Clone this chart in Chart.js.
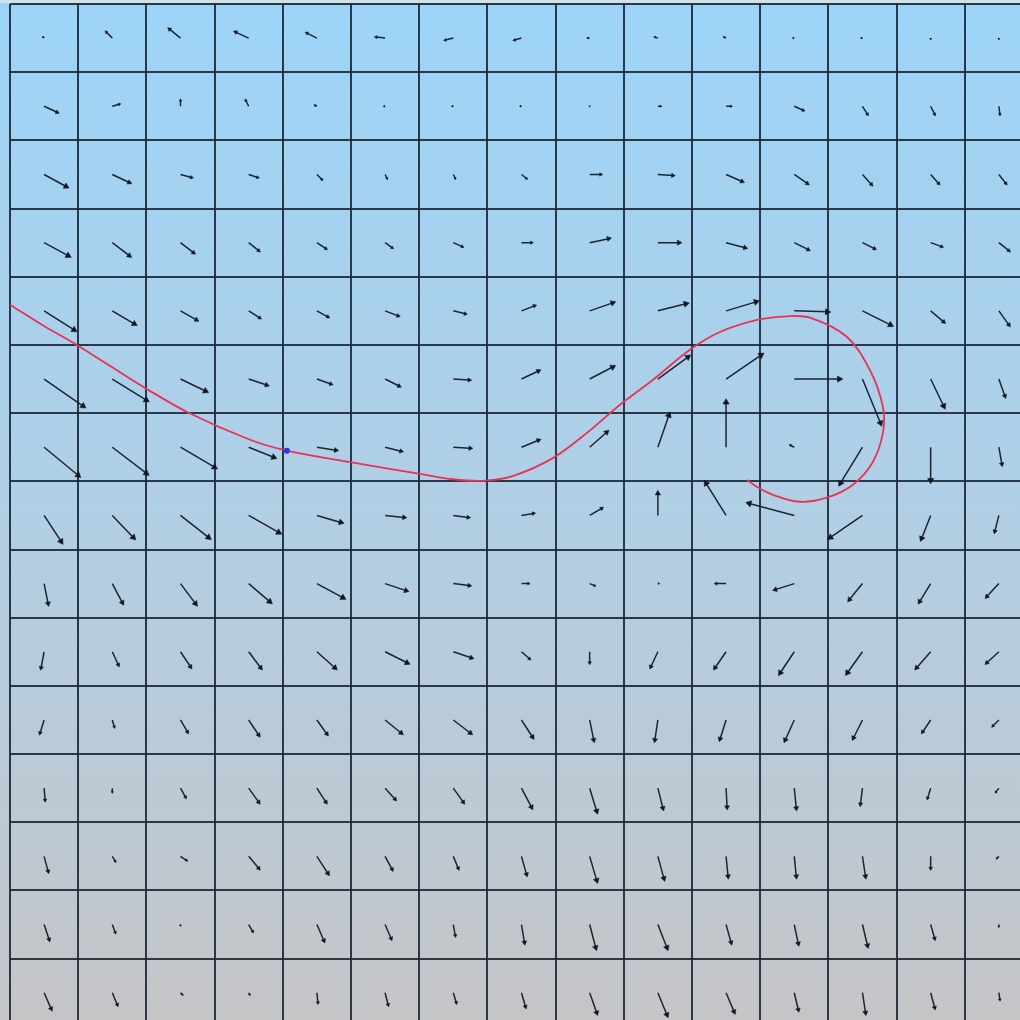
<!DOCTYPE html>
<html>
<head>
<meta charset="utf-8">
<script src="https://cdn.jsdelivr.net/npm/chart.js@4.4.1/dist/chart.umd.min.js"></script>
<style>
  html, body { margin: 0; padding: 0; background: #c5c5c7; }
  #wrap { width: 1020px; height: 1020px; }
  canvas { display: block; }
</style>
</head>
<body>
<div id="wrap"><canvas id="field" width="1020" height="1020"></canvas></div>
<script>
// Vector field sampled at the centre of each grid cell (row 0 = top).
// u: rightward component, v: downward component.
const fieldU = [
  [ -1,  -6, -11, -13, -10,  -9,  -8,  -7,  -2,  -3,  -2,  -1,  -1,   0,   0],
  [ 13,   7,   0,  -3,  -2,  -1,  -1,  -1,   0,   3,   5,   9,   5,   4,   1],
  [ 22,  17,  11,   9,   5,   2,   2,   5,  11,  15,  16,  13,   9,   8,   7],
  [ 24,  17,  13,  10,   9,   7,   9,  10,  19,  21,  19,  14,  12,  11,  10],
  [ 30,  22,  16,  11,  11,  13,  12,  13,  23,  28,  30,  33,  28,  13,  10],
  [ 39,  34,  25,  18,  14,  14,  16,  17,  23,  30,  35,  45,  18,  13,   6],
  [ 34,  34,  34,  25,  19,  16,  17,  17,  17,  11,   0,  -4, -22,   0,   3],
  [ 17,  21,  28,  30,  24,  19,  15,  12,  12,   0, -20, -45, -32,  -9,  -4],
  [  4,  10,  15,  21,  26,  21,  16,   7,   5,   1, -10, -19, -13, -11, -12],
  [ -3,   6,  10,  12,  18,  22,  18,   8,   0,  -7, -11, -14, -15, -14, -12],
  [ -4,   2,   7,  10,  10,  16,  17,  11,   4,  -3,  -6,  -9,  -9,  -8,  -6],
  [  1,   0,   5,  10,   9,  10,  10,  10,   7,   5,   1,   2,  -2,  -3,  -3],
  [  4,   3,   6,  10,  11,   7,   5,   5,   7,   6,   2,   2,   3,   0,  -2],
  [  5,   3,   0,   4,   7,   6,   2,   3,   6,   9,   5,   4,   5,   4,   0],
  [  7,   5,   2,   1,   1,   3,   3,   4,   7,   9,   8,   4,   3,   4,   1]
];
const fieldV = [
  [ -1,  -6,  -9,  -6,  -5,  -1,   2,   2,   0,  -1,  -1,   0,   0,   1,   1],
  [  6,  -2,  -6,  -6,  -1,   0,   0,   0,   0,   0,   0,   4,   8,   8,   8],
  [ 12,   8,   3,   3,   5,   4,   4,   4,   0,   1,   7,   9,  10,   9,   9],
  [ 13,  13,  10,   8,   6,   5,   4,   0,  -4,   0,   5,   7,   6,   4,   8],
  [ 19,  13,   9,   7,   6,   5,   3,  -5,  -8,  -7,  -9,   1,  14,  11,  14],
  [ 27,  21,  12,   6,   5,   7,   1,  -8, -12, -22, -24,   0,  44,  27,  17],
  [ 28,  26,  20,  10,   3,   4,   1,  -7, -15, -32, -45,  -2,  36,  33,  17],
  [ 26,  22,  22,  17,   7,   2,   2,  -2,  -7, -22, -32, -12,  22,  23,  16],
  [ 20,  19,  20,  18,  14,   7,   2,   0,   2,   0,   0,   6,  16,  18,  13],
  [ 16,  13,  15,  16,  16,  11,   6,   7,  11,  15,  16,  21,  21,  16,  11],
  [ 13,   7,  12,  15,  14,  13,  13,  17,  20,  20,  19,  20,  18,  12,   6],
  [ 12,   4,   9,  14,  14,  11,  14,  19,  23,  20,  19,  20,  16,  10,   4],
  [ 15,   5,   4,  12,  17,  13,  12,  18,  24,  22,  20,  20,  20,  12,   2],
  [ 15,   8,   1,   7,  16,  14,  11,  18,  23,  23,  18,  19,  21,  14,   2],
  [ 16,  12,   2,   2,  10,  12,  10,  14,  20,  22,  19,  17,  20,  15,   7]
];

// Grid line positions (cell boundaries) along each axis.
const gridLines = [0, 1, 2, 3, 4, 5, 6, 7, 8, 9, 10, 11, 12, 13, 14, 15];

// Integrated trajectory through the field, in grid-cell coordinates.
const pathX = [0.00, 0.48, 0.98, 1.47, 1.98, 2.61, 3.52, 4.06, 4.99, 6.01, 6.50, 6.97,
               7.38, 7.96, 8.46, 8.94, 9.43, 9.97, 10.41, 10.97, 11.39, 11.73, 12.27, 12.61,
               12.80, 12.80, 12.65, 12.36, 11.98, 11.58, 11.19, 10.95, 10.81];
const pathY = [4.41, 4.71, 5.00, 5.31, 5.63, 5.99, 6.39, 6.55, 6.72, 6.89, 6.97, 6.99,
               6.92, 6.66, 6.29, 5.88, 5.51, 5.07, 4.81, 4.63, 4.58, 4.60, 4.88, 5.37,
               5.91, 6.29, 6.72, 7.05, 7.24, 7.30, 7.20, 7.08, 6.98];

// Starting point of the trajectory.
const markerX = [4.06];
const markerY = [6.55];

// Field units to grid cells for arrow length.
const QUIVER_SCALE = 1 / 68.2;

const shaftPoints = [];
const headPoints = [];
const headAngles = [];
const headSizes = [];
for (let r = 0; r < fieldU.length; r++) {
  for (let c = 0; c < fieldU[r].length; c++) {
    const u = fieldU[r][c], v = fieldV[r][c];
    const x0 = c + 0.5, y0 = r + 0.5;
    const x1 = x0 + u * QUIVER_SCALE, y1 = y0 + v * QUIVER_SCALE;
    shaftPoints.push({ x: x0, y: y0 }, { x: x1, y: y1 }, { x: x1, y: null });
    headPoints.push({ x: x1, y: y1 });
    headAngles.push(Math.atan2(u, -v) * 180 / Math.PI);
    headSizes.push(Math.min(3.6, 0.9 + 0.1 * Math.hypot(u, v)));
  }
}

const pathPoints = pathX.map((x, i) => ({ x, y: pathY[i] }));
const markerPoints = markerX.map((x, i) => ({ x, y: markerY[i] }));

const backdrop = {
  id: 'backdrop',
  beforeDraw(chart) {
    const { ctx, width, height } = chart;
    const g = ctx.createLinearGradient(0, 0, 0, height);
    g.addColorStop(0, 'rgb(156, 212, 248)');
    g.addColorStop(0.5, 'rgb(177, 207, 229)');
    g.addColorStop(1, 'rgb(197, 197, 199)');
    ctx.save();
    ctx.fillStyle = g;
    ctx.fillRect(0, 0, width, height);
    ctx.fillStyle = 'rgb(212, 224, 234)';
    ctx.fillRect(0, 0, width, 3);
    ctx.restore();
  }
};

const gridColor = 'rgba(22, 36, 52, 0.88)';

new Chart(document.getElementById('field'), {
  type: 'scatter',
  data: {
    datasets: [
      {
        type: 'scatter',
        data: markerPoints,
        order: 0,
        pointRadius: 3,
        pointBackgroundColor: 'rgb(50, 50, 235)',
        pointBorderWidth: 0
      },
      {
        type: 'line',
        data: pathPoints,
        order: 1,
        borderColor: 'rgb(232, 50, 86)',
        borderWidth: 1.8,
        pointRadius: 0,
        tension: 0.35,
        fill: false
      },
      {
        type: 'scatter',
        data: headPoints,
        order: 2,
        pointStyle: 'triangle',
        pointRotation: headAngles,
        pointRadius: headSizes,
        pointBackgroundColor: 'rgb(18, 22, 32)',
        pointBorderColor: 'rgb(18, 22, 32)',
        pointBorderWidth: 0.5
      },
      {
        type: 'line',
        data: shaftPoints,
        order: 3,
        borderColor: 'rgba(18, 22, 32, 0.92)',
        borderWidth: 1.5,
        pointRadius: 0,
        spanGaps: false,
        tension: 0,
        fill: false
      }
    ]
  },
  options: {
    responsive: false,
    animation: false,
    events: [],
    layout: { autoPadding: false, padding: { left: 10, top: 4, right: 0, bottom: 0 } },
    plugins: { legend: { display: false }, tooltip: { enabled: false } },
    scales: {
      x: {
        type: 'linear',
        min: 0,
        max: 14.81,
        ticks: { display: false },
        grid: { color: gridColor, lineWidth: 2, drawTicks: false },
        border: { display: false },
        afterBuildTicks: s => { s.ticks = gridLines.filter(v => v <= s.max).map(v => ({ value: v })); },
        afterFit: s => { s.height = 0; }
      },
      y: {
        type: 'linear',
        reverse: true,
        min: 0,
        max: 14.9,
        ticks: { display: false },
        grid: { color: gridColor, lineWidth: 2, drawTicks: false },
        border: { display: false },
        afterBuildTicks: s => { s.ticks = gridLines.filter(v => v <= s.max).map(v => ({ value: v })); },
        afterFit: s => { s.width = 0; }
      }
    }
  },
  plugins: [backdrop]
});
</script>
</body>
</html>
